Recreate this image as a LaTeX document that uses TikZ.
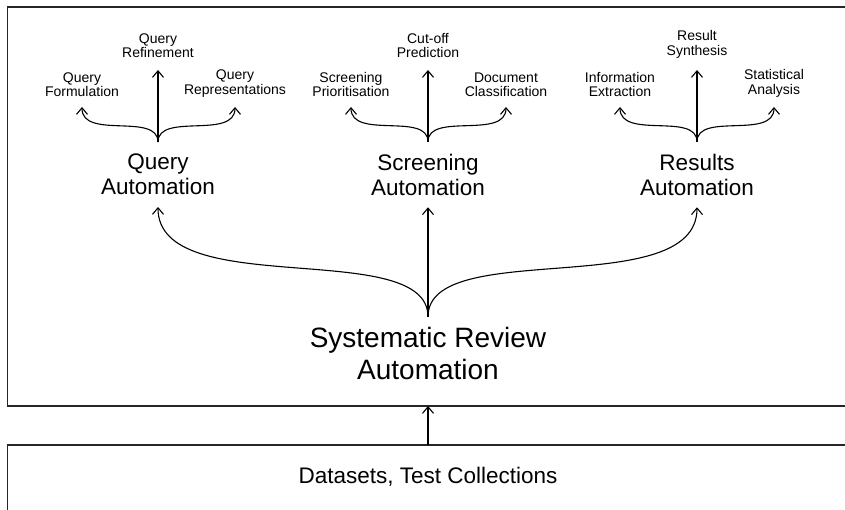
\documentclass[tikz,border=0pt]{standalone}
\usepackage{fontspec}
\setmainfont{Liberation Sans}
\usetikzlibrary{arrows.meta}
\begin{document}
\begin{tikzpicture}[x=1pt,y=-1pt,
  arr/.style={draw=black, line width=1.1pt, -{Straight Barb[length=6.5pt,width=11pt]}},
  box/.style={draw=black!85, line width=1.2pt, inner sep=0pt, outer sep=0pt},
  small/.style={font=\fontsize{14}{14.8}\selectfont, align=center, inner sep=0pt},
  side/.style={small, anchor=south, outer xsep=0pt, outer ysep=10pt},
  centre/.style={small, anchor=south, outer xsep=0pt, outer ysep=12pt},
  midlab/.style={font=\fontsize{22.5}{25}\selectfont, align=center, inner sep=0pt, outer xsep=0pt, outer ysep=12pt},
  biglab/.style={font=\fontsize{28}{32}\selectfont, align=center, inner sep=0pt, outer xsep=0pt, outer ysep=10pt},
  datalab/.style={font=\fontsize{22.5}{25}\selectfont, inner sep=0pt}
]
\useasboundingbox (0,0) rectangle (845,510);
\clip (0,0) rectangle (845,510);

% containers
\node[box, minimum width=841pt, minimum height=399pt] (frame) at (428,206.5) {};
\node[box, minimum width=841pt, minimum height=100pt] (dbox) at (428,495) {};
\node[datalab] (data) at (428,477) {Datasets, Test Collections};

% main node
\node[biglab] (sra) at (428,353) {Systematic Review\\Automation};

% level 2
\node[midlab] (qa) at (158,174.5) {Query\\Automation};
\node[midlab] (sa) at (428,174.5) {Screening\\Automation};
\node[midlab] (ra) at (697,174.5) {Results\\Automation};

% level 3
\node[side]   (qf)  at (82,107)  {Query\\Formulation};
\node[centre] (qr)  at (158,70)  {Query\\Refinement};
\node[side]   (qp)  at (235,107) {Query\\Representations};

\node[side]   (sp)  at (351,107) {Screening\\Prioritisation};
\node[centre] (sc)  at (428,70)  {Cut-off\\Prediction};
\node[side]   (sd)  at (506,107) {Document\\Classification};

\node[side]   (ie)  at (620,107) {Information\\Extraction};
\node[centre] (rs)  at (697,70)  {Result\\Synthesis};
\node[side]   (sta) at (774,107) {Statistical\\Analysis};

% connectors
\draw[arr] (dbox.north) -- (frame.south);

\draw[arr] (sra.north) -- (sa.south);
\draw[arr] (sra.north) .. controls +(0,-80) and +(0,95) .. (qa.south);
\draw[arr] (sra.north) .. controls +(0,-80) and +(0,95) .. (ra.south);

\foreach \b/\l/\c/\r in {qa/qf/qr/qp, sa/sp/sc/sd, ra/ie/rs/sta}{
  \draw[arr] (\b.north) -- (\c.south);
  \draw[arr] (\b.north) .. controls +(0,-30) and +(0,33) .. (\l.south);
  \draw[arr] (\b.north) .. controls +(0,-30) and +(0,33) .. (\r.south);
}
\end{tikzpicture}
\end{document}
